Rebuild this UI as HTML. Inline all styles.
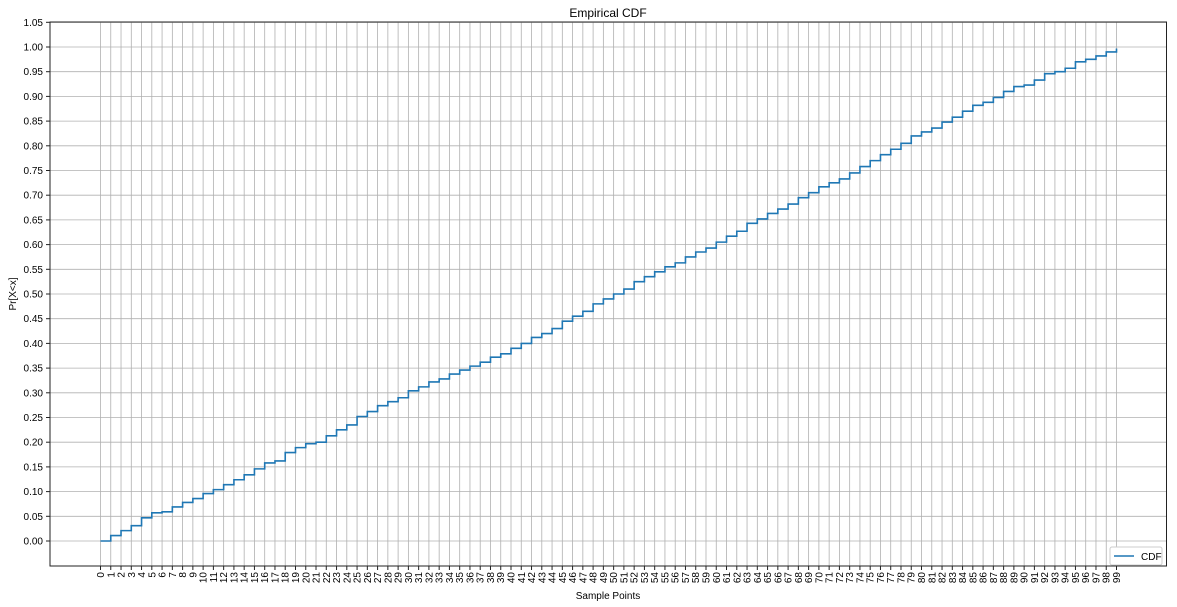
<!DOCTYPE html>
<html><head><meta charset="utf-8"><style>
body{margin:0;background:#fff;}
svg{display:block;font-family:"Liberation Sans","DejaVu Sans",sans-serif;}
</style></head><body>
<svg id="chart" width="1177" height="607">
<text x="608" y="17" font-size="12" text-anchor="middle">Empirical CDF</text>
<g id="grid"></g>
<g id="ticks"></g>
<path id="line" fill="none" stroke="#1f77b4" stroke-width="1.6"></path>
<rect x="50" y="22" width="1116.5" height="544" fill="none" stroke="#222" stroke-width="1"></rect>
<text x="608" y="599" font-size="10" text-anchor="middle">Sample Points</text>
<text transform="translate(16,294) rotate(-90)" font-size="10" text-anchor="middle">Pr[X&lt;x]</text>
<g>
<rect x="1110" y="547" width="52" height="18" fill="#fff" stroke="#ccc" rx="2"></rect>
<line x1="1114" y1="556" x2="1134" y2="556" stroke="#1f77b4" stroke-width="1.6"></line>
<text x="1141" y="560" font-size="10">CDF</text>
</g>
</svg>
<script>
const values=[0,0.011,0.021,0.031,0.047,0.057,0.059,0.069,0.078,0.086,0.096,0.104,0.114,0.124,0.134,0.146,0.158,0.162,0.179,0.189,0.197,0.200,0.213,0.225,0.235,0.252,0.262,0.274,0.282,0.290,0.304,0.312,0.322,0.328,0.338,0.346,0.354,0.362,0.372,0.379,0.390,0.400,0.412,0.420,0.430,0.445,0.455,0.465,0.480,0.490,0.500,0.510,0.525,0.535,0.545,0.555,0.563,0.575,0.585,0.593,0.605,0.617,0.627,0.643,0.652,0.663,0.672,0.682,0.695,0.705,0.717,0.725,0.733,0.745,0.758,0.770,0.782,0.793,0.805,0.820,0.828,0.836,0.848,0.858,0.870,0.882,0.888,0.898,0.910,0.920,0.923,0.933,0.946,0.950,0.957,0.970,0.975,0.982,0.990,0.997];
const yTicks=[0,0.05,0.1,0.15,0.2,0.25,0.3,0.35,0.4,0.45,0.5,0.55,0.6,0.65,0.7,0.75,0.8,0.85,0.9,0.95,1.0,1.05];
const NS="http://www.w3.org/2000/svg";
const X=i=>100.5+i*(1016/99);
const Y=v=>541-v*494;
const grid=document.getElementById('grid'),ticks=document.getElementById('ticks');
function mk(tag,attrs,parent){const e=document.createElementNS(NS,tag);for(const k in attrs)e.setAttribute(k,attrs[k]);parent.appendChild(e);return e;}
values.forEach((v,i)=>{
  const gl=mk('line',{x1:X(i),x2:X(i),y1:22,y2:566,stroke:'#b0b0b0','stroke-width':0.8},grid);
  
  
  mk('line',{x1:X(i),x2:X(i),y1:566,y2:570,stroke:'#222'},ticks);
  const t=mk('text',{transform:`translate(${X(i)+3.5},572) rotate(-90)`,'font-size':10,'text-anchor':'end'},ticks);
  t.textContent=String(i);
  
  
});
yTicks.forEach(v=>{
  const gl=mk('line',{x1:50,x2:1166,y1:Y(v),y2:Y(v),stroke:'#b0b0b0','stroke-width':0.8},grid);
  
  
  mk('line',{x1:46,x2:50,y1:Y(v),y2:Y(v),stroke:'#222'},ticks);
  const t=mk('text',{x:43,y:Y(v)+3.5,'font-size':10,'text-anchor':'end'},ticks);
  t.textContent=v.toFixed(2);
  
  
});
let d=`M${X(0)},${Y(values[0])}`;
for(let i=1;i<values.length;i++){d+=` H${X(i)} V${Y(values[i])}`;}
document.getElementById('line').setAttribute('d',d);
</script>
</body></html>
